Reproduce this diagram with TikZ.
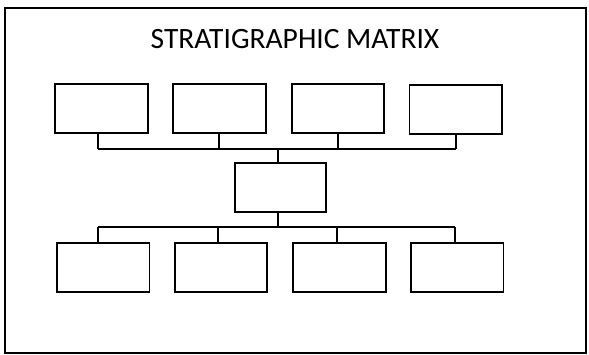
\documentclass[tikz,border=0pt]{standalone}
\usepackage{fontspec}
\setmainfont{Carlito}
\begin{document}
\begin{tikzpicture}[x=1pt,y=-1pt,
  box/.style={draw, line width=1.8pt, minimum width=92.5pt, minimum height=49pt, inner sep=0pt},
  link/.style={line width=1.8pt},
  frame/.style={line width=1.8pt}]
\useasboundingbox (0,0) rectangle (589,354);
\draw[frame] (5,8) rectangle (586,353);
\node[font=\fontsize{29.5}{34}\selectfont] (title) at (295,39) {STRATIGRAPHIC MATRIX};
% top row
\node[box] (t1) at (101.5,108.5) {};
\node[box] (t2) at (219.5,108.5) {};
\node[box] (t3) at (338,108.5) {};
\node[box] (t4) at (455.7,109.5) {};
% centre
\node[box, minimum width=91.3pt, minimum height=48.7pt] (c) at (280.7,187.4) {};
% bottom row
\node[box] (b1) at (103.2,267.2) {};
\node[box] (b2) at (221,267.2) {};
\node[box] (b3) at (339.5,267.2) {};
\node[box] (b4) at (457.2,267.8) {};
% bus coordinates
\coordinate (s1) at (97.7,149.3);
\coordinate (s2) at (218.7,149.3);
\coordinate (s3) at (338.3,149.3);
\coordinate (s4) at (456.3,149.3);
\coordinate (sc) at (278.3,149.3);
\coordinate (u1) at (97.7,226.7);
\coordinate (u2) at (217.7,226.7);
\coordinate (u3) at (336.7,226.7);
\coordinate (u4) at (454.7,226.7);
\coordinate (uc) at (278.3,226.7);
% top connectors
\draw[link] (t1.south -| s1) -- (s1);
\draw[link] (t2.south -| s2) -- (s2);
\draw[link] (t3.south -| s3) -- (s3);
\draw[link] (t4.south -| s4) -- (s4);
\draw[link] (s1) -- (s4);
\draw[link] (c.north -| sc) -- (sc);
% bottom connectors
\draw[link] (c.south -| uc) -- (uc);
\draw[link] (u1) -- (u4);
\draw[link] (u1) -- (b1.north -| u1);
\draw[link] (u2) -- (b2.north -| u2);
\draw[link] (u3) -- (b3.north -| u3);
\draw[link] (u4) -- (b4.north -| u4);
\end{tikzpicture}
\end{document}
